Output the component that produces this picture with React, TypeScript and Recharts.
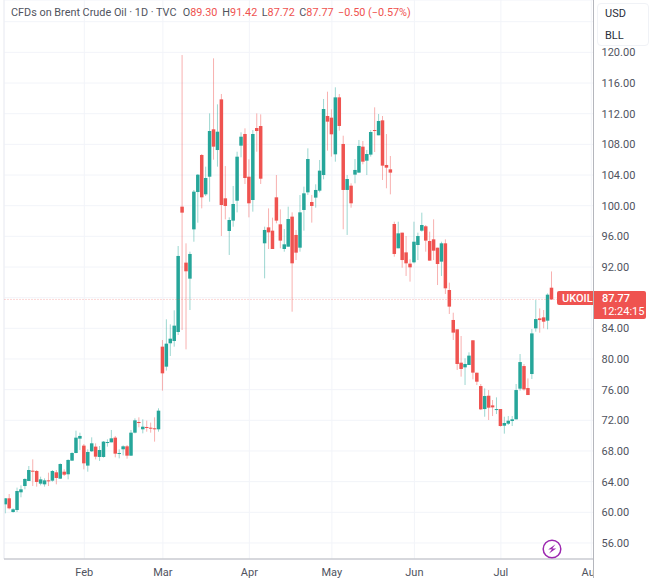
import { Bar, CartesianGrid, ComposedChart, ReferenceLine, XAxis, YAxis } from 'recharts';

const opens = [
  61.04, 61.83, 60.04, 60.3, 62.61, 63.43, 64.09, 65.43, 65.39, 63.74,
  63.65, 64.17, 64.13, 65.22, 64.39, 65.3, 64.96, 66.74, 67.74, 69.61,
  68.7, 66.09, 67.96, 68.57, 67.22, 67.22, 69.13, 69.13, 69.74, 67.65,
  68.22, 68.61, 67.39, 70.39, 71.78, 70.83, 71.13, 71.04, 70.96, 70.83,
  81.61, 79.0, 82.05, 82.35, 83.52, 99.87, 92.57, 90.48, 96.91, 101.78,
  106.61, 101.48, 103.78, 109.96, 107.26, 113.87, 100.96, 96.7, 98.05, 100.65,
  107.83, 109.35, 103.78, 100.74, 110.13, 110.39, 95.09, 97.17, 96.74, 101.09,
  97.57, 94.35, 94.65, 98.57, 96.18, 94.52, 99.44, 101.74, 100.48, 101.05,
  101.96, 104.0, 111.7, 111.48, 106.7, 114.13, 108.05, 102.05, 102.61, 104.05,
  104.31, 107.7, 105.87, 106.66, 109.87, 109.18, 111.13, 105.31, 104.74, 97.61,
  94.44, 96.48, 93.91, 92.44, 92.61, 94.87, 96.74, 97.31, 95.39, 95.61,
  94.52, 92.7, 95.09, 89.0, 85.09, 83.87, 79.52, 78.91, 79.22, 82.44,
  78.21, 76.47, 73.47, 75.21, 73.95, 73.39, 73.47, 71.3, 71.56, 71.91,
  72.13, 76.13, 79.08, 76.21, 78.04, 84.0, 85.3, 85.43, 85.0, 89.3,
];
const closes = [
  61.83, 60.52, 60.39, 62.78, 63.0, 64.35, 65.52, 65.39, 63.96, 64.3,
  64.17, 64.09, 65.39, 64.48, 66.3, 64.91, 66.83, 67.74, 69.74, 69.96,
  66.39, 67.87, 69.0, 67.26, 68.13, 69.22, 69.17, 69.65, 67.65, 67.74,
  68.61, 67.39, 70.39, 72.0, 71.74, 71.17, 71.04, 70.91, 70.83, 73.26,
  78.13, 82.0, 82.65, 84.35, 93.44, 99.09, 91.44, 93.7, 101.83, 104.04,
  101.09, 103.61, 109.74, 107.7, 109.65, 100.09, 99.96, 98.13, 100.22, 106.39,
  109.0, 103.61, 100.31, 109.35, 109.74, 103.52, 96.83, 96.52, 94.35, 98.05,
  95.44, 94.96, 98.26, 92.48, 93.87, 99.13, 101.61, 106.09, 99.96, 102.05,
  104.57, 112.61, 110.96, 109.31, 114.13, 110.4, 102.05, 103.48, 100.31, 104.66,
  107.79, 105.74, 106.74, 109.61, 109.79, 111.05, 105.22, 104.96, 104.31, 93.7,
  96.39, 92.91, 92.48, 91.96, 95.3, 96.04, 97.48, 95.44, 92.83, 94.13,
  92.39, 95.09, 89.22, 86.83, 83.44, 79.35, 78.7, 79.35, 80.44, 78.22,
  77.04, 73.43, 75.17, 73.65, 73.69, 73.47, 71.26, 71.65, 71.95, 72.13,
  75.95, 79.6, 76.04, 75.3, 83.34, 85.21, 85.08, 84.87, 88.39, 87.77,
];
const highs = [
  61.83, 62.39, 60.52, 63.22, 63.52, 64.43, 66.04, 66.91, 65.52, 64.65,
  64.43, 65.17, 65.52, 65.52, 66.39, 65.61, 66.91, 67.83, 70.65, 70.39,
  68.91, 68.22, 69.78, 69.0, 68.65, 69.3, 69.52, 70.74, 69.96, 68.22,
  68.74, 68.78, 70.74, 72.26, 72.39, 72.13, 71.96, 71.7, 72.39, 73.57,
  82.48, 85.18, 84.52, 86.35, 94.74, 119.65, 95.09, 94.0, 102.05, 104.13,
  106.74, 105.09, 112.04, 119.22, 113.22, 114.57, 105.17, 98.48, 102.57, 107.04,
  109.57, 110.09, 106.05, 109.87, 112.04, 111.91, 97.26, 99.65, 98.44, 104.0,
  99.52, 96.96, 99.87, 99.13, 96.83, 101.39, 102.48, 107.48, 101.4, 102.79,
  105.96, 113.92, 114.87, 112.57, 115.44, 114.57, 109.13, 104.0, 102.92, 106.09,
  108.57, 108.44, 107.27, 109.87, 112.83, 111.96, 111.7, 109.35, 106.48, 97.91,
  97.91, 96.48, 96.04, 93.0, 97.91, 96.48, 99.09, 97.48, 96.61, 98.22,
  94.52, 95.3, 95.61, 89.96, 86.04, 83.87, 83.0, 80.09, 80.87, 82.44,
  78.21, 76.74, 76.17, 75.95, 74.65, 75.0, 73.47, 72.47, 72.56, 72.56,
  76.74, 80.65, 79.34, 77.47, 83.91, 87.69, 86.6, 86.39, 88.56, 91.42,
];
const lows = [
  59.87, 60.39, 59.96, 60.04, 61.96, 63.0, 64.09, 63.43, 63.35, 63.52,
  63.35, 63.43, 64.0, 63.65, 64.35, 64.74, 64.3, 66.7, 67.7, 68.13,
  65.61, 65.3, 67.87, 66.91, 66.7, 67.13, 68.57, 69.13, 67.17, 67.04,
  67.43, 67.0, 67.35, 70.3, 71.09, 70.3, 70.52, 70.39, 69.22, 70.52,
  75.87, 78.48, 80.39, 81.61, 83.13, 83.78, 81.26, 86.39, 95.3, 97.78,
  99.65, 101.26, 100.52, 106.0, 105.09, 96.05, 98.22, 93.57, 97.26, 99.13,
  106.31, 102.83, 98.48, 99.22, 107.04, 102.83, 90.52, 94.35, 94.35, 97.7,
  94.44, 94.0, 94.65, 86.17, 92.91, 94.0, 96.74, 101.4, 97.79, 99.74,
  101.74, 103.44, 107.18, 106.4, 105.74, 109.79, 96.92, 96.18, 99.74, 102.92,
  104.31, 105.4, 104.0, 106.4, 107.0, 109.18, 103.35, 102.27, 101.48, 93.35,
  94.44, 91.91, 90.83, 90.09, 92.48, 92.91, 96.61, 94.0, 92.83, 92.91,
  89.65, 90.83, 88.48, 85.87, 82.48, 78.57, 77.7, 76.61, 79.22, 77.35,
  76.6, 73.34, 72.47, 72.04, 72.56, 72.82, 71.17, 70.26, 71.39, 71.26,
  72.13, 75.87, 75.87, 75.3, 77.39, 83.56, 83.43, 84.0, 83.87, 87.72,
];

const priceTicks = [56, 60, 64, 68, 72, 76, 80, 84, 88, 92, 96, 100, 104, 108, 112, 116, 120, 124];
// these two sit under the currency box and the last-price tag, only their gridlines show
const hiddenPriceLabels = [88, 124];
const monthLabels = ['Feb', 'Mar', 'Apr', 'May', 'Jun', 'Jul', 'Aug'];
const monthIndexes = [20, 40, 62, 83, 104, 126, 149];

const UP = '#26a69a';
const DOWN = '#ef5350';
const FONT = 'Roboto, sans-serif';
const GREY = '#50535e';

const candles = opens.map((open, i) => ({
  idx: i,
  open,
  close: closes[i],
  high: highs[i],
  low: lows[i],
  range: [lows[i], highs[i]],
}));

// the bar spans low..high, the body is worked out from that span
const Candle = (props: any) => {
  const { x, y, width, height, payload } = props;
  const { open, close, high, low } = payload;
  const perUnit = height / (high - low);
  const color = close >= open ? UP : DOWN;
  const top = y + (high - Math.max(open, close)) * perUnit;
  const bodyH = Math.max(Math.abs(open - close) * perUnit, 1);
  const cx = x + width / 2;
  return (
    <g>
      <rect x={cx - 0.5} y={y} width={1} height={height} fill={color} opacity={0.45} />
      <rect x={cx - 1.75} y={top} width={3.5} height={bodyH} fill={color} />
    </g>
  );
};

// the price scale hides the right part of the last month label
const MonthTick = (props: any) => {
  const { x, y, payload } = props;
  const label = monthLabels[monthIndexes.indexOf(payload.value)];
  return (
    <g>
      <clipPath id={`month-${payload.value}`}>
        <rect x={0} y={550} width={593} height={28} />
      </clipPath>
      <text
        x={x}
        y={y + 9}
        textAnchor="middle"
        fontSize={11}
        fontFamily={FONT}
        fill={GREY}
        clipPath={`url(#month-${payload.value})`}
      >
        {label}
      </text>
    </g>
  );
};

const headerBit = (left: number, label: string, value: string) => (
  <span style={{ position: 'absolute', left, top: 0 }}>
    {label}
    <span style={{ color: DOWN }}>{value}</span>
  </span>
);

const App = () => {
  return (
    <div style={{ position: 'absolute', left: 0, top: 0, width: 649, height: 578, overflow: 'hidden', background: '#fff' }}>
      <ComposedChart
        width={649}
        height={578}
        data={candles}
        margin={{ top: 0, right: 0, bottom: 0, left: 4 }}
      >
        <CartesianGrid stroke="#f2f4f9" />
        <XAxis
          dataKey="idx"
          type="number"
          domain={[-0.433, 149.57]}
          ticks={monthIndexes}
          interval={0}
          height={19}
          stroke="#b4b6bd"
          tickLine={false}
          tick={<MonthTick />}
          allowDataOverflow
        />
        <YAxis
          orientation="right"
          domain={[53.91, 126.83]}
          ticks={priceTicks}
          interval={0}
          width={55.5}
          stroke="#b4b6bd"
          tickLine={false}
          tickSize={0}
          tickMargin={8}
          tickFormatter={(v: number) => (hiddenPriceLabels.includes(v) ? '' : v.toFixed(2))}
          tick={{ fontSize: 11, fontFamily: FONT, fill: GREY }}
          allowDataOverflow
        />
        <ReferenceLine x={-0.433} stroke="#eceef3" />
        <ReferenceLine y={87.77} stroke="#ef5350" strokeOpacity={0.45} strokeDasharray="1 2" />
        <Bar dataKey="range" barSize={3} shape={<Candle />} isAnimationActive={false} />
      </ComposedChart>

      {/* axis line carries on below the time scale */}
      <div style={{ position: 'absolute', left: 593, top: 559, width: 1, height: 19, background: '#b4b6bd' }} />

      <div style={{ position: 'absolute', left: 0, top: 6, width: 560, height: 14, fontFamily: FONT, fontSize: 10.85, color: GREY, whiteSpace: 'pre', lineHeight: '14px' }}>
        <span style={{ position: 'absolute', left: 11, top: 0 }}>CFDs on Brent Crude Oil · 1D · TVC</span>
        {headerBit(182.7, 'O', '89.30')}
        {headerBit(222.3, 'H', '91.42')}
        {headerBit(261.7, 'L', '87.72')}
        {headerBit(299.3, 'C', '87.77')}
        {headerBit(338, '', '−0.50 (−0.57%)')}
      </div>

      <div style={{ position: 'absolute', left: 597, top: 3, width: 50, height: 41, background: '#fff', border: '1px solid #f0f2f6', borderRadius: 4, fontFamily: FONT, fontSize: 11, color: '#2a2e39' }}>
        <div style={{ position: 'absolute', left: 7, top: 3 }}>USD</div>
        <div style={{ position: 'absolute', left: 7, top: 25 }}>BLL</div>
      </div>

      <div style={{ position: 'absolute', left: 557, top: 291, width: 36, height: 14, background: DOWN, borderRadius: '2px 0 0 2px', color: '#fff', fontFamily: FONT, fontSize: 11, fontWeight: 500, lineHeight: '15px', paddingLeft: 5, boxSizing: 'border-box' }}>
        UKOIL
      </div>
      <div style={{ position: 'absolute', left: 594, top: 291, width: 52, height: 28, background: DOWN, borderRadius: '0 2px 2px 0', color: '#fff', fontFamily: FONT, fontSize: 11, lineHeight: '13px', paddingLeft: 8, paddingTop: 1, boxSizing: 'border-box' }}>
        <div style={{ fontWeight: 500 }}>87.77</div>
        <div>12:24:15</div>
      </div>

      <svg style={{ position: 'absolute', left: 542, top: 539 }} width={20} height={20}>
        <circle cx={10} cy={10} r={8.8} fill="#fff" stroke="#9c27b0" strokeWidth={1.5} />
        <path d="M13.5 5.2 L6.2 10.4 L10 10.2 L7 14.6 L14.2 9.4 L10.3 9.6 Z" fill="#9c27b0" />
      </svg>
    </div>
  );
};

export default App;
